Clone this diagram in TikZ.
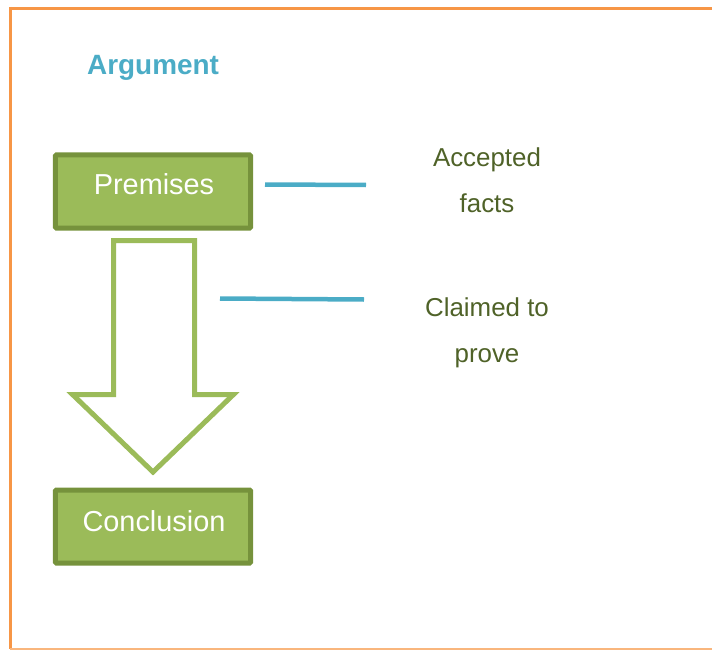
\documentclass[tikz,border=0pt]{standalone}
\usepackage{fontspec}
\setmainfont{Liberation Sans}
\definecolor{frameorange}{HTML}{F79646}
\definecolor{boxfill}{HTML}{9BBB59}
\definecolor{boxedge}{HTML}{76923C}
\definecolor{linkblue}{HTML}{4BACC6}
\definecolor{noteolive}{HTML}{4F6228}
\begin{document}
\begin{tikzpicture}[x=1bp,y=-1bp,
  stepbox/.style={draw=boxedge,fill=boxfill,line width=5bp,rounded corners=1bp,
    minimum width=195bp,minimum height=73bp,inner sep=0pt},
  boxtext/.style={anchor=base,inner sep=0pt,text=white,font=\fontsize{29}{32}\selectfont},
  note/.style={anchor=base,align=center,text=noteolive,
    font=\fontsize{26}{46}\selectfont},
  link/.style={draw=linkblue,line width=4.5bp},
  flow/.style={draw=boxfill,line width=5bp,fill=white,line join=miter}]
\useasboundingbox (0,0) rectangle (717,650);
% page frame, open on the right
\draw[frameorange,line width=3bp] (10,8.5) -- (712,8.5);
\draw[frameorange,line width=3bp] (10,7) -- (10,649);
\draw[frameorange!70,line width=1.5bp] (10,649) -- (712,649);
% title
\node[anchor=base west,inner sep=0pt,text=linkblue,font=\fontsize{28}{32}\selectfont\bfseries]
  (title) at (87,75) {Argument};
% boxes
\node[stepbox] (prem) at (153,191.5) {};
\node[boxtext] (premtxt) at (154,194) {Premises};
\node[stepbox] (concl) at (153,526.5) {};
\node[boxtext] (concltxt) at (154,531) {Conclusion};
% block arrow from premises to conclusion
\draw[flow] (113.5,240.5) -- (194.5,240.5) -- (194.5,394.5) -- (233.5,394.5)
  -- (153,472) -- (72.5,394.5) -- (113.5,394.5) -- cycle;
% notes (base = baseline of the last line) and their leader lines
\node[note] (facts) at (487,212) {Accepted\\facts};
\node[note] (claim) at (487,362) {Claimed to\\prove};
\coordinate (f1) at (265,184.5);
\coordinate (f2) at (366,185);
\coordinate (c1) at (220,298.5);
\coordinate (c2) at (364,299.5);
\draw[link] (f1) -- (f2);
\draw[link] (c1) -- (c2);
\end{tikzpicture}
\end{document}
